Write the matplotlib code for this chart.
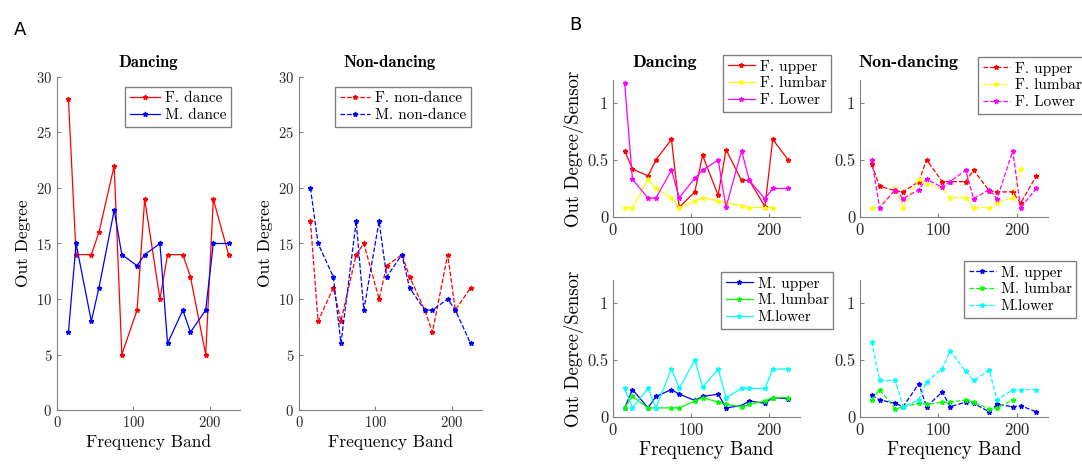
import matplotlib
matplotlib.use('Agg')
import matplotlib.pyplot as plt
import numpy as np

plt.rcParams['font.family'] = 'cmr10'
plt.rcParams['mathtext.fontset'] = 'cm'
plt.rcParams['axes.formatter.use_mathtext'] = True

nan = np.nan

# frequency bands (x values)
bands = [15, 25, 45, 55, 75, 85, 105, 115, 135, 145, 165, 175, 195, 205, 225]

# Panel A: out degree
f_dance = [28, 14, 14, 16, 22, 5, 9, 19, 10, 14, 14, 12, 5, 19, 14]
m_dance = [7, 15, 8, 11, 18, 14, 13, 14, 15, 6, 9, 7, 9, 15, 15]
f_nondance = [17, 8, 11, 8, 14, 15, 10, 13, 14, 12, 9, 7, 14, 9, 11]
m_nondance = [20, 15, 12, 6, 17, 9, 17, 12, 14, 11, 9, 9, 10, 9, 6]

# Panel B: out degree per sensor, female
f_upper_d = [0.58, 0.42, 0.36, 0.5, 0.68, 0.085, 0.22, 0.54, 0.19, 0.59, 0.32, 0.32, 0.09, 0.68, 0.5]
f_lumbar_d = [0.083, 0.083, 0.33, 0.25, 0.17, 0.083, 0.14, 0.17, 0.14, 0.125, 0.1, 0.083, 0.083, 0.083, nan]
f_lower_d = [1.17, 0.33, 0.165, 0.165, 0.41, 0.17, 0.34, 0.41, 0.5, 0.085, 0.58, 0.32, 0.16, 0.25, 0.25]
f_upper_n = [0.46, 0.27, 0.23, 0.22, 0.31, 0.5, 0.31, 0.31, 0.31, 0.41, 0.23, 0.22, 0.22, 0.12, 0.36]
f_lumbar_n = [0.083, 0.083, 0.25, 0.083, 0.33, 0.29, 0.25, 0.17, 0.17, 0.083, 0.083, 0.125, 0.17, 0.42, nan]
f_lower_n = [0.5, 0.08, 0.24, 0.16, 0.24, 0.33, 0.26, 0.31, 0.41, 0.16, 0.24, 0.16, 0.58, 0.08, 0.25]

# Panel B: out degree per sensor, male
m_upper_d = [0.08, 0.24, 0.08, 0.18, 0.24, 0.2, 0.145, 0.18, 0.2, 0.08, 0.1, 0.14, 0.12, 0.17, 0.16]
m_lumbar_d = [0.083, 0.18, 0.08, 0.08, 0.08, 0.08, 0.14, 0.17, 0.13, 0.11, 0.09, 0.11, 0.14, 0.17, 0.17]
m_lower_d = [0.25, 0.08, 0.25, 0.08, 0.42, 0.25, 0.5, 0.26, 0.42, 0.17, 0.25, 0.25, 0.25, 0.42, 0.42]
m_upper_n = [0.19, 0.15, 0.12, 0.09, 0.29, 0.09, 0.22, 0.09, 0.13, 0.12, 0.045, 0.11, 0.09, 0.1, 0.045]
m_lumbar_n = [0.15, 0.24, 0.07, 0.09, 0.12, 0.11, 0.13, 0.13, 0.15, 0.13, 0.07, 0.08, 0.15, nan, nan]
m_lower_n = [0.66, 0.32, 0.32, 0.09, 0.15, 0.31, 0.42, 0.58, 0.4, 0.32, 0.41, 0.15, 0.24, 0.24, 0.24]

# MATLAB-style pure colours
RED, BLUE, YELLOW, MAGENTA = '#ff0000', '#0000ff', '#ffff00', '#ff00ff'
GREEN, CYAN = '#00ff00', '#00ffff'

W, H = 1082, 469
fig = plt.figure(figsize=(W / 100, H / 100), dpi=100)

axis_gray = '#808080'


def make_axes(l, t, r, b, fs):
    ax = fig.add_axes([l / W, 1 - b / H, (r - l) / W, (b - t) / H])
    for s in ['top', 'right']:
        ax.spines[s].set_visible(False)
    for s in ['left', 'bottom']:
        ax.spines[s].set_color(axis_gray)
        ax.spines[s].set_linewidth(0.8)
    ax.tick_params(direction='in', length=3, colors=axis_gray, labelcolor='#262626', labelsize=fs)
    ax.set_xlim(0, 240)
    ax.set_xticks([0, 100, 200])
    return ax


def add_legend(ax, x, y, fs, hl=2.0):
    ax.legend(loc='upper left', bbox_to_anchor=(x / W, 1 - y / H), bbox_transform=fig.transFigure,
              fontsize=fs, fancybox=False, edgecolor=axis_gray, framealpha=1, borderaxespad=0,
              handlelength=hl, handletextpad=0.3, borderpad=0.3, labelspacing=0.2)


mk = dict(marker='*', ms=3.5, lw=0.9)

# ---- Panel A ----
ax1 = make_axes(57, 77, 240, 410, 10.5)
ax1.plot(bands, f_dance, color=RED, label='F. dance', **mk)
ax1.plot(bands, m_dance, color=BLUE, label='M. dance', **mk)
ax1.set_ylim(0, 30)
ax1.set_yticks(range(0, 31, 5))
ax1.set_ylabel('Out Degree', fontsize=12.5, labelpad=4)
ax1.set_xlabel('Frequency Band', fontsize=12.5, labelpad=3)
add_legend(ax1, 125, 87, 11)

ax2 = make_axes(299, 77, 482, 410, 10.5)
ax2.plot(bands, f_nondance, color=RED, ls='--', label='F. non-dance', **mk)
ax2.plot(bands, m_nondance, color=BLUE, ls='--', label='M. non-dance', **mk)
ax2.set_ylim(0, 30)
ax2.set_yticks(range(0, 31, 5))
ax2.set_ylabel('Out Degree', fontsize=12.5, labelpad=4)
ax2.set_xlabel('Frequency Band', fontsize=12.5, labelpad=3)
add_legend(ax2, 335, 87, 11)

fig.text(148 / W, 1 - 63 / H, 'Dancing', family='cmb10', fontsize=12, ha='center', va='center')
fig.text(390 / W, 1 - 63 / H, 'Non-dancing', family='cmb10', fontsize=12, ha='center', va='center')

# ---- Panel B ----
fsB = 12
fsLeg = 11
panels = [
    (613, 80, 800, 217, '-', [(f_upper_d, RED, 'F. upper'), (f_lumbar_d, YELLOW, 'F. lumbar'), (f_lower_d, MAGENTA, 'F. Lower')], (723, 55), True, False),
    (860, 80, 1048, 217, '--', [(f_upper_n, RED, 'F. upper'), (f_lumbar_n, YELLOW, 'F. lumbar'), (f_lower_n, MAGENTA, 'F. Lower')], (978, 57), False, False),
    (613, 280, 800, 417, '-', [(m_upper_d, BLUE, 'M. upper'), (m_lumbar_d, GREEN, 'M. lumbar'), (m_lower_d, CYAN, 'M.lower')], (721, 272), True, True),
    (860, 280, 1048, 417, '--', [(m_upper_n, BLUE, 'M. upper'), (m_lumbar_n, GREEN, 'M. lumbar'), (m_lower_n, CYAN, 'M.lower')], (964, 261), False, True),
]
for l, t, r, b, ls, series, (lx, ly), ylab, xlab in panels:
    ax = make_axes(l, t, r, b, fsB)
    for vals, c, lab in series:
        ax.plot(bands, vals, color=c, ls=ls, label=lab, **mk)
    ax.set_ylim(0, 1.2)
    ax.set_yticks([0, 0.5, 1])
    ax.set_yticklabels(['0', '0.5', '1'])
    if ylab:
        ax.set_ylabel('Out Degree/Sensor', fontsize=13.5, labelpad=2)
    if xlab:
        ax.set_xlabel('Frequency Band', fontsize=13.5, labelpad=2)
    add_legend(ax, lx, ly, fsLeg, hl=1.8)

fig.text(665 / W, 1 - 63 / H, 'Dancing', family='cmb10', fontsize=13, ha='center', va='center')
fig.text(908 / W, 1 - 63 / H, 'Non-dancing', family='cmb10', fontsize=13, ha='center', va='center')

# panel letters
fig.text(20 / W, 1 - 30 / H, 'A', family='DejaVu Sans', fontsize=13, ha='center', va='center')
fig.text(575 / W, 1 - 25 / H, 'B', family='DejaVu Sans', fontsize=13, ha='center', va='center')

fig.savefig('out.png', dpi=100)
